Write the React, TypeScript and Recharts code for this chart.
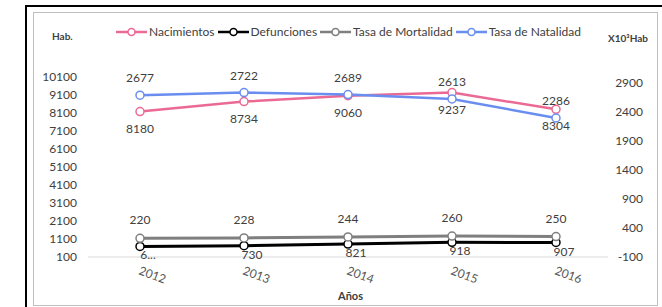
import React from 'react';
import { LineChart, Line, XAxis, YAxis, Legend, LabelList } from 'recharts';

// Categories and series
const years = ['2012', '2013', '2014', '2015', '2016'];
const nacimientos = [8180, 8734, 9060, 9237, 8304];
const defunciones = [690, 730, 821, 918, 907];
const tasaMortalidad = [220, 228, 244, 260, 250];
const tasaNatalidad = [2677, 2722, 2689, 2613, 2286];
// Excel cut the first label short
const defuncionesLabels = ['6...', '730', '821', '918', '907'];

// Tick labels
const leftTicks = [100, 1100, 2100, 3100, 4100, 5100, 6100, 7100, 8100, 9100, 10100];
const rightTicks = [-100, 400, 900, 1400, 1900, 2400, 2900];
const legendOrder = ['Nacimientos', 'Defunciones', 'Tasa de Mortalidad', 'Tasa de Natalidad'];

const data = years.map((year, i) => ({
	year,
	nacimientos: nacimientos[i],
	defunciones: defunciones[i],
	mortalidad: tasaMortalidad[i],
	natalidad: tasaNatalidad[i],
}));

const FONT = 'Lato, "Open Sans", sans-serif';
const TEXT = '#404040';

const PINK = '#ea6a94';
const BLUE = '#6a8ef0';
const GRAY = '#7f7f7f';
const BLACK = '#000000';

// label drawn at an offset from its point
const makeLabel = (dx: number, dy: number, texts?: string[]) => (props: any) => {
	const { x, y, value, index } = props;
	const txt = texts ? texts[index] : value;
	return (
		<text
			x={x + dx}
			y={y + dy}
			textAnchor='middle'
			dominantBaseline='middle'
			fontSize={12}
			fontFamily={FONT}
			fill={TEXT}>
			{txt}
		</text>
	);
};

const XTick = ({ x, y, payload }: any) => {
	const cx = x + 12;
	const cy = y + 19;
	return (
		<text
			x={cx}
			y={cy}
			textAnchor='middle'
			dominantBaseline='middle'
			transform={`rotate(20 ${cx} ${cy})`}
			fontSize={12}
			fontFamily={FONT}
			fill='#595959'>
			{payload.value}
		</text>
	);
};

const LegendContent = ({ payload }: any) => {
	const items = [...(payload || [])].sort(
		(a: any, b: any) => legendOrder.indexOf(a.value) - legendOrder.indexOf(b.value)
	);
	return (
		<div
			style={{
				display: 'flex',
				alignItems: 'center',
				fontFamily: FONT,
				fontSize: 12,
				color: TEXT,
				lineHeight: '16px',
				whiteSpace: 'nowrap',
			}}>
			{items.map((item: any) => (
				<div key={item.value} style={{ display: 'flex', alignItems: 'center', marginRight: 3 }}>
					<svg width={31} height={10} style={{ marginRight: 2 }}>
						<line x1={0} y1={5} x2={31} y2={5} stroke={item.color} strokeWidth={2.5} />
						<circle cx={15.5} cy={5} r={3.5} fill='#fff' stroke={item.color} strokeWidth={1.5} />
					</svg>
					<span>{item.value}</span>
				</div>
			))}
		</div>
	);
};

const dotStyle = (color: string) => ({ r: 4, fill: '#fff', stroke: color, strokeWidth: 1.5 });

const App = () => {
	return (
		<div
			style={{
				position: 'absolute',
				left: 0,
				top: 0,
				width: 662,
				height: 307,
				overflow: 'hidden',
				background: '#fff',
				fontFamily: FONT,
			}}>
			{/* outer black frame */}
			<div
				style={{
					position: 'absolute',
					left: 25,
					top: 5,
					width: 700,
					height: 400,
					borderLeft: '2px solid #000',
					borderTop: '2px solid #000',
				}}
			/>
			{/* inner gray frame */}
			<div
				style={{
					position: 'absolute',
					left: 33,
					top: 12,
					width: 623,
					height: 292,
					border: '1px solid #bfbfbf',
				}}
			/>
			<div style={{ position: 'absolute', left: 0, top: 0 }}>
				<LineChart
					width={662}
					height={307}
					data={data}
					margin={{ top: 61, right: 0, bottom: 0, left: 0 }}>
					<XAxis
						dataKey='year'
						height={50}
						padding={{ left: 52, right: 52 }}
						axisLine={{ stroke: '#d9d9d9' }}
						tickLine={false}
						tickSize={0}
						tickMargin={0}
						tick={<XTick />}
						interval={0}
					/>
					<YAxis
						yAxisId='left'
						width={88}
						domain={[100, 10100]}
						ticks={leftTicks}
						interval={0}
						axisLine={false}
						tickLine={false}
						tickSize={0}
						tickMargin={11}
						tick={{ fontSize: 12, fill: TEXT, fontFamily: FONT }}
					/>
					<YAxis
						yAxisId='right'
						orientation='right'
						width={54}
						domain={[-100, 2990]}
						allowDataOverflow
						ticks={rightTicks}
						interval={0}
						axisLine={false}
						tickLine={false}
						tickSize={0}
						tickMargin={35}
						tick={{ fontSize: 12, fill: TEXT, fontFamily: FONT, textAnchor: 'end' }}
					/>
					<Legend
						verticalAlign='top'
						wrapperStyle={{ position: 'absolute', top: 24, left: 116, width: 'auto' }}
						content={<LegendContent />}
					/>
					<Line
						yAxisId='left'
						dataKey='nacimientos'
						name='Nacimientos'
						stroke={PINK}
						strokeWidth={2.5}
						dot={dotStyle(PINK)}
						activeDot={false}
						isAnimationActive={false}>
						<LabelList dataKey='nacimientos' content={makeLabel(0, 18)} />
					</Line>
					<Line
						yAxisId='left'
						dataKey='defunciones'
						name='Defunciones'
						stroke={BLACK}
						strokeWidth={3}
						dot={dotStyle(BLACK)}
						activeDot={false}
						isAnimationActive={false}>
						<LabelList dataKey='defunciones' content={makeLabel(8, 10, defuncionesLabels)} />
					</Line>
					<Line
						yAxisId='right'
						dataKey='mortalidad'
						name='Tasa de Mortalidad'
						stroke={GRAY}
						strokeWidth={3}
						dot={dotStyle(GRAY)}
						activeDot={false}
						isAnimationActive={false}>
						<LabelList dataKey='mortalidad' content={makeLabel(0, -17)} />
					</Line>
					<Line
						yAxisId='right'
						dataKey='natalidad'
						name='Tasa de Natalidad'
						stroke={BLUE}
						strokeWidth={2.5}
						dot={dotStyle(BLUE)}
						activeDot={false}
						isAnimationActive={false}>
						<LabelList dataKey='natalidad' content={makeLabel(0, -16)} />
					</Line>
				</LineChart>
			</div>
			{/* axis titles */}
			<div
				style={{
					position: 'absolute',
					left: 52,
					top: 30,
					fontSize: 10,
					fontWeight: 700,
					color: TEXT,
				}}>
				Hab.
			</div>
			<div
				style={{
					position: 'absolute',
					left: 608,
					top: 32,
					fontSize: 10,
					fontWeight: 700,
					color: TEXT,
					whiteSpace: 'nowrap',
				}}>
				X10³Hab
			</div>
			<div
				style={{
					position: 'absolute',
					left: 338,
					top: 289,
					fontSize: 11,
					fontWeight: 700,
					color: TEXT,
				}}>
				Años
			</div>
		</div>
	);
};

export default App;
